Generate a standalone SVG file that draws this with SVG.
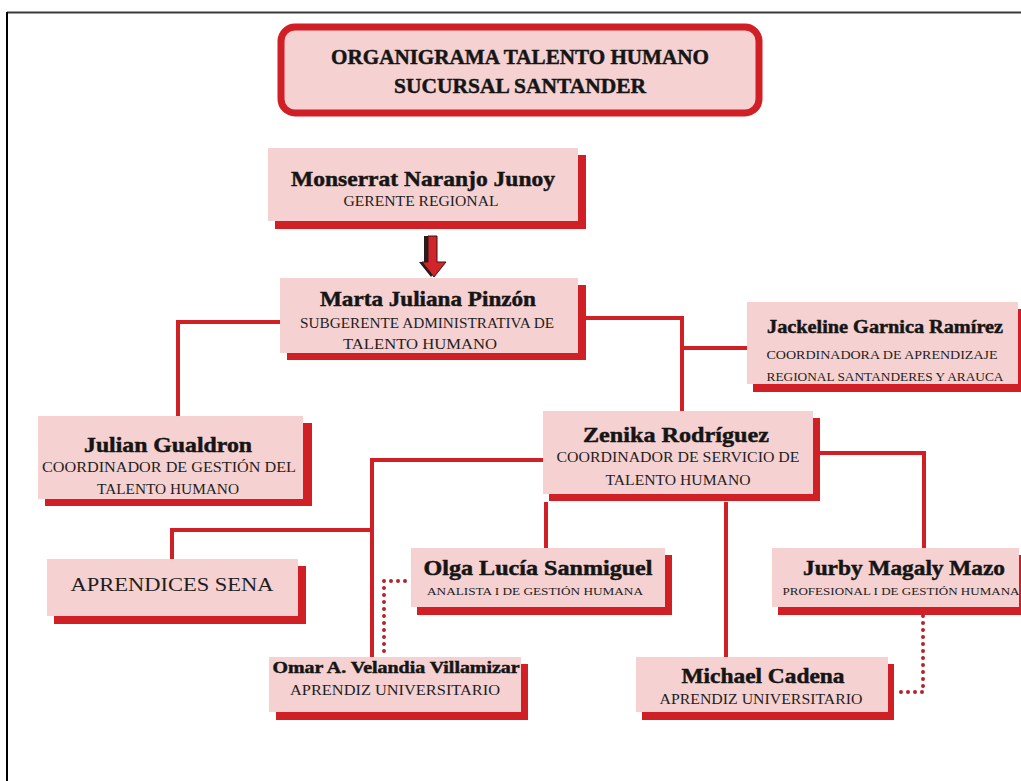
<svg xmlns="http://www.w3.org/2000/svg" width="1021" height="781" viewBox="0 0 1021 781">
<defs>
<style>
.bg{fill:#ffffff}
.sh{fill:#d11f26}
.pk{fill:#f5d1d1}
.ln{fill:none;stroke:#d11f26;stroke-width:4;stroke-linejoin:miter;stroke-linecap:butt}
.dt{fill:none;stroke:#b2232b;stroke-width:4;stroke-dasharray:0 7;stroke-linecap:round}
.nm{font-family:"Liberation Serif","DejaVu Serif",serif;font-weight:bold;fill:#151515;stroke:#151515;stroke-width:0.45;text-anchor:middle}
.sb{font-family:"Liberation Serif","DejaVu Serif",serif;fill:#1e1e1e;text-anchor:middle}
</style>
</defs>
<rect class="bg" x="0" y="0" width="1021" height="781"/>
<g id="frame">
<line x1="7" y1="12.5" x2="1021" y2="12.5" stroke="#3a3a3a" stroke-width="2"/>
<line x1="7" y1="12" x2="7" y2="781" stroke="#000" stroke-width="2"/>
</g>

<g id="connectors">
<path class="ln" d="M281 322 H178 V416"/>
<path class="ln" d="M586 318 H682 V412"/>
<path class="ln" d="M682 348 H748"/>
<path class="ln" d="M543 460 H372 V657"/>
<path class="ln" d="M372 530 H172 V559"/>
<path class="ln" d="M546 502 V549"/>
<path class="ln" d="M726 502 V657"/>
<path class="ln" d="M818 453 H924 V549"/>
<path class="dt" d="M405 581 H384 V657"/>
<path class="dt" d="M923 616 V692 H896"/>
<g id="arrow">
<polygon points="424,236 433,236 433,262 442,262 431,277 419,262 424,262" fill="#2a1a1a"/>
<polygon points="428,236 437,236 437,262 446,262 434,277 422,262 428,262" fill="#d0252b" stroke="#3a1515" stroke-width="1"/>
</g>
</g>

<g id="title">
<rect x="281" y="27" width="478" height="86" rx="14" fill="#f5d1d1" stroke="#d11f26" stroke-width="7"/>
<text class="nm" x="520" y="64" font-size="21" textLength="378" lengthAdjust="spacingAndGlyphs">ORGANIGRAMA TALENTO HUMANO</text>
<text class="nm" x="520" y="93" font-size="21" textLength="252" lengthAdjust="spacingAndGlyphs">SUCURSAL SANTANDER</text>
</g>

<g id="monserrat">
<rect class="sh" x="275" y="155" width="311" height="74"/>
<rect class="pk" x="268" y="148" width="310" height="73"/>
<text class="nm" x="423" y="186" font-size="21" textLength="264" lengthAdjust="spacingAndGlyphs">Monserrat Naranjo Junoy</text>
<text class="sb" x="421" y="206" font-size="15" textLength="155" lengthAdjust="spacingAndGlyphs">GERENTE REGIONAL</text>
</g>

<g id="marta">
<rect class="sh" x="287" y="285" width="299" height="75"/>
<rect class="pk" x="280" y="278" width="298" height="75"/>
<text class="nm" x="428" y="306" font-size="21" textLength="216" lengthAdjust="spacingAndGlyphs">Marta Juliana Pinzón</text>
<text class="sb" x="427" y="328" font-size="14" textLength="254" lengthAdjust="spacingAndGlyphs">SUBGERENTE ADMINISTRATIVA DE</text>
<text class="sb" x="420" y="349" font-size="14" textLength="154" lengthAdjust="spacingAndGlyphs">TALENTO HUMANO</text>
</g>

<g id="jackeline">
<rect class="sh" x="753" y="309" width="271" height="83"/>
<rect class="pk" x="747" y="302" width="271" height="82"/>
<text class="nm" x="885" y="333" font-size="18" textLength="236" lengthAdjust="spacingAndGlyphs">Jackeline Garnica Ramírez</text>
<text class="sb" x="882" y="359" font-size="13" textLength="231" lengthAdjust="spacingAndGlyphs">COORDINADORA DE APRENDIZAJE</text>
<text class="sb" x="885" y="381" font-size="13" textLength="237" lengthAdjust="spacingAndGlyphs">REGIONAL SANTANDERES Y ARAUCA</text>
</g>

<g id="julian">
<rect class="sh" x="45" y="423" width="267" height="83"/>
<rect class="pk" x="38" y="416" width="265" height="83"/>
<text class="nm" x="168" y="452" font-size="21" textLength="168" lengthAdjust="spacingAndGlyphs">Julian Gualdron</text>
<text class="sb" x="169" y="472" font-size="14" textLength="254" lengthAdjust="spacingAndGlyphs">COORDINADOR DE GESTIÓN  DEL</text>
<text class="sb" x="168" y="494" font-size="14" textLength="142" lengthAdjust="spacingAndGlyphs">TALENTO HUMANO</text>
</g>

<g id="zenika">
<rect class="sh" x="549" y="418" width="271" height="83"/>
<rect class="pk" x="543" y="411" width="270" height="83"/>
<text class="nm" x="676" y="442" font-size="21" textLength="186" lengthAdjust="spacingAndGlyphs">Zenika Rodríguez</text>
<text class="sb" x="678" y="462" font-size="14" textLength="243" lengthAdjust="spacingAndGlyphs">COORDINADOR DE SERVICIO DE</text>
<text class="sb" x="678" y="485" font-size="14" textLength="145" lengthAdjust="spacingAndGlyphs">TALENTO HUMANO</text>
</g>

<g id="aprendices">
<rect class="sh" x="54" y="566" width="252" height="58"/>
<rect class="pk" x="47" y="559" width="251" height="57"/>
<text class="sb" x="172" y="591" font-size="19" textLength="203" lengthAdjust="spacingAndGlyphs">APRENDICES SENA</text>
</g>

<g id="olga">
<rect class="sh" x="417" y="555" width="255" height="60"/>
<rect class="pk" x="411" y="548" width="254" height="59"/>
<text class="nm" x="538" y="575" font-size="20" textLength="229" lengthAdjust="spacingAndGlyphs">Olga Lucía Sanmiguel</text>
<text class="sb" x="535" y="595" font-size="11" textLength="216" lengthAdjust="spacingAndGlyphs">ANALISTA I DE GESTIÓN HUMANA</text>
</g>

<g id="jurby">
<rect class="sh" x="778" y="555" width="246" height="60"/>
<rect class="pk" x="772" y="548" width="247" height="59"/>
<text class="nm" x="904" y="575" font-size="20" textLength="202" lengthAdjust="spacingAndGlyphs">Jurby Magaly Mazo</text>
<text class="sb" x="901" y="595" font-size="11" textLength="237" lengthAdjust="spacingAndGlyphs">PROFESIONAL I DE GESTIÓN HUMANA</text>
</g>

<g id="omar">
<rect class="sh" x="276" y="664" width="252" height="56"/>
<rect class="pk" x="269" y="657" width="252" height="55"/>
<text class="nm" x="396" y="673" font-size="16" textLength="247" lengthAdjust="spacingAndGlyphs">Omar A. Velandia Villamizar</text>
<text class="sb" x="395" y="695" font-size="14" textLength="210" lengthAdjust="spacingAndGlyphs">APRENDIZ UNIVERSITARIO</text>
</g>

<g id="michael">
<rect class="sh" x="642" y="664" width="252" height="56"/>
<rect class="pk" x="636" y="657" width="252" height="55"/>
<text class="nm" x="763" y="683" font-size="20" textLength="163" lengthAdjust="spacingAndGlyphs">Michael Cadena</text>
<text class="sb" x="761" y="704" font-size="14" textLength="203" lengthAdjust="spacingAndGlyphs">APRENDIZ UNIVERSITARIO</text>
</g>
</svg>
